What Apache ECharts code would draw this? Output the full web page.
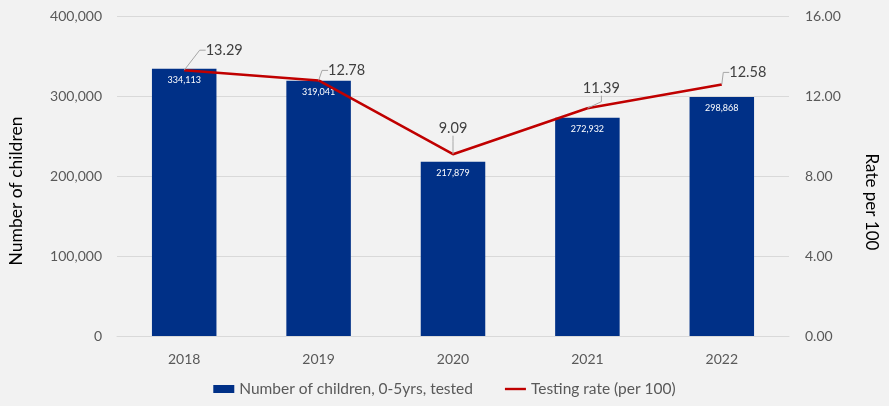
<!DOCTYPE html>
<html>
<head>
<meta charset="utf-8">
<script src="https://cdn.jsdelivr.net/npm/echarts@6/dist/echarts.min.js"></script>
<style>
  html, body { margin: 0; padding: 0; background: #f2f2f2; }
  #chart { width: 889px; height: 406px; }
</style>
</head>
<body>
<div id="chart"></div>
<script>
const years = ['2018', '2019', '2020', '2021', '2022']
const childrenTested = [334113, 319041, 217879, 272932, 298868]
const testingRate = [13.29, 12.78, 9.09, 11.39, 12.58]

// where each rate label sits relative to its point
const rateLabelShift = [[40, -20], [28, -10], [0, -26], [14, -20], [26, -12]]

const font = 'Lato, "Open Sans", sans-serif'
const chart = echarts.init(document.getElementById('chart'))

chart.setOption({
  backgroundColor: '#f2f2f2',
  textStyle: { fontFamily: font },
  grid: { left: 117, right: 100, top: 16, bottom: 70, outerBoundsMode: 'none' },
  legend: {
    bottom: 4,
    left: 'center',
    itemGap: 32,
    itemWidth: 21,
    itemHeight: 8,
    symbolKeepAspect: true,
    textStyle: { color: '#595959', fontSize: 15.5, fontFamily: font },
    data: [
      { name: 'Number of children, 0-5yrs, tested', icon: 'rect' },
      { name: 'Testing rate (per 100)', icon: 'path://M0,0H22V2.5H0Z' }
    ]
  },
  xAxis: {
    type: 'category',
    data: years,
    axisTick: { show: false },
    axisLine: { lineStyle: { color: '#d9d9d9' } },
    axisLabel: { color: '#595959', fontSize: 14, margin: 16 }
  },
  yAxis: [
    {
      type: 'value',
      min: 0,
      max: 400000,
      interval: 100000,
      name: 'Number of children',
      nameLocation: 'middle',
      nameGap: 92,
      nameTextStyle: { color: '#000', fontSize: 17.5, fontFamily: font, padding: [0, 30, 0, 0] },
      axisLine: { show: false },
      axisTick: { show: false },
      splitLine: { lineStyle: { color: '#d9d9d9' } },
      axisLabel: {
        color: '#595959',
        fontSize: 14,
        margin: 15,
        formatter: v => v.toLocaleString('en-US')
      }
    },
    {
      type: 'value',
      min: 0,
      max: 16,
      interval: 4,
      name: 'Rate per 100',
      nameLocation: 'middle',
      nameRotate: -90,
      nameGap: 74,
      nameTextStyle: { color: '#000', fontSize: 17, fontFamily: font, padding: [0, 0, 0, 52] },
      axisLine: { show: false },
      axisTick: { show: false },
      splitLine: { show: false },
      axisLabel: {
        color: '#595959',
        fontSize: 14,
        margin: 16,
        formatter: v => v.toFixed(2)
      }
    }
  ],
  series: [
    {
      name: 'Number of children, 0-5yrs, tested',
      type: 'bar',
      data: childrenTested,
      barWidth: '48%',
      itemStyle: { color: '#003087' },
      label: {
        show: true,
        position: 'insideTop',
        distance: 7,
        color: '#fff',
        fontSize: 9,
        formatter: p => p.value.toLocaleString('en-US')
      },
      silent: true
    },
    {
      name: 'Testing rate (per 100)',
      type: 'line',
      yAxisIndex: 1,
      data: testingRate,
      symbol: 'circle',
      symbolSize: 0.1,
      lineStyle: { color: '#c00000', width: 2.5 },
      itemStyle: { color: '#c00000' },
      label: {
        show: true,
        position: 'inside',
        color: '#404040',
        fontSize: 14.5,
        formatter: p => p.value.toFixed(2)
      },
      labelLine: {
        show: true,
        length2: 6,
        lineStyle: { color: '#a6a6a6', width: 1 }
      },
      labelLayout: p => ({
        dx: rateLabelShift[p.dataIndex][0],
        dy: rateLabelShift[p.dataIndex][1]
      }),
      silent: true,
      z: 5
    }
  ]
})
</script>
</body>
</html>
